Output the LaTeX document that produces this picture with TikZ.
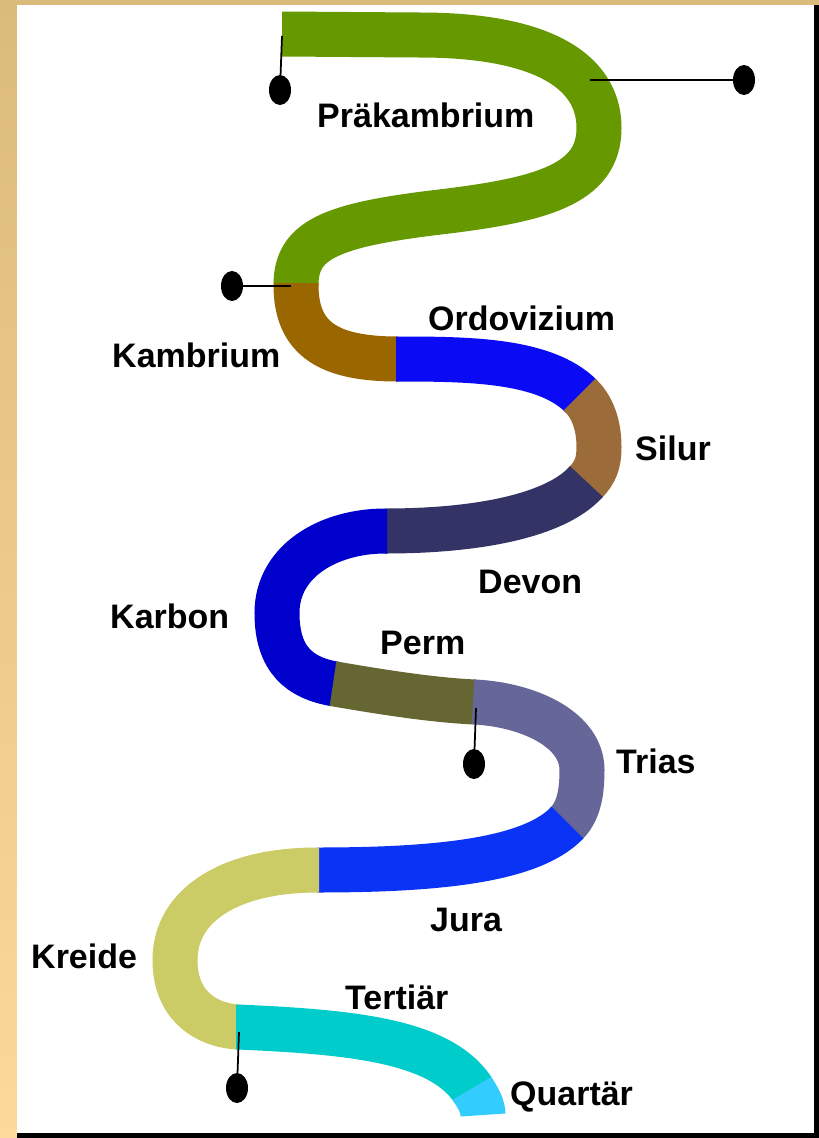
\documentclass[tikz,border=0pt]{standalone}
\usepackage{fontspec}
\setsansfont{Liberation Sans}
\usetikzlibrary{shapes.geometric}
\definecolor{frametop}{HTML}{DBBB7B}
\definecolor{framebottom}{HTML}{FDD99A}
\definecolor{praekamb}{HTML}{669900}
\definecolor{kamb}{HTML}{996600}
\definecolor{ordo}{HTML}{0A0AF5}
\definecolor{silur}{HTML}{9C6B3A}
\definecolor{devon}{HTML}{333366}
\definecolor{karbon}{HTML}{0000CC}
\definecolor{perm}{HTML}{666633}
\definecolor{trias}{HTML}{666699}
\definecolor{jura}{HTML}{0A33F5}
\definecolor{kreide}{HTML}{CCCC66}
\definecolor{tertiaer}{HTML}{00CCCC}
\definecolor{quartaer}{HTML}{33CCFF}

\begin{document}
\begin{tikzpicture}[x=0.03cm,y=-0.03cm,font=\sffamily\bfseries\fontsize{29}{34}\selectfont]
  \tikzset{band/.style={line width=1.35cm,line cap=butt},
    era/.style={anchor=base west,inner sep=0pt},
    blob/.style={ellipse,fill=black,minimum width=0.66cm,minimum height=0.9cm,inner sep=0pt},
    leader/.style={line width=1.5pt}}

  \useasboundingbox (0,0) rectangle (819,1138);
  \shade[top color=frametop,bottom color=framebottom] (0,0) rectangle (819,1138);
  \fill[white] (17,5) rectangle (814,1133);
  \fill[black] (814,5) rectangle (819,1138);
  \fill[black] (17,1133) rectangle (819,1138);

  % the band of the eras
  \draw[band,praekamb] (282,34) -- (420,35) .. controls (540,35) and (599,70) .. (599,128)
    .. controls (599,185) and (540,200) .. (440,212) .. controls (330,225) and (296,240) .. (296,285);
  \draw[band,kamb] (296,283) -- (296,285) .. controls (296,340) and (330,359) .. (398,359);
  \draw[band,ordo] (396,359) -- (398,359) .. controls (470,359) and (545,360) .. (581,396);
  \draw[band,silur] (579.6,394.6) -- (581,396) .. controls (595,410) and (599,430) .. (599,447)
    .. controls (599,462) and (596,472) .. (585,483);
  \draw[band,devon] (586.4,481.5) -- (585,483) .. controls (555,515) and (480,531) .. (385,531);
  \draw[band,karbon] (387,531) -- (385,531) .. controls (330,531) and (277,560) .. (277,613)
    .. controls (277,660) and (300,678) .. (335,684);
  \draw[band,perm] (333,683.7) -- (335,684) .. controls (376,691) and (430,700) .. (475,702);
  \draw[band,trias] (473,701.9) -- (475,702) .. controls (530,705) and (582,730) .. (582,770)
    .. controls (582,795) and (578,812) .. (566,824);
  \draw[band,jura] (567.4,822.6) -- (566,824) .. controls (530,860) and (440,870) .. (317,870);
  \draw[band,kreide] (319,870) -- (317,870) .. controls (230,870) and (175,905) .. (175,960)
    .. controls (175,1005) and (205,1025) .. (238,1027);
  \draw[band,tertiaer] (236,1027) -- (238,1027) .. controls (350,1032) and (440,1040) .. (473,1090);
  \draw[band,quartaer] (472,1088.3) -- (473,1090) .. controls (478,1098) and (483,1106) .. (483,1115);

  \node[era] (praekambrium) at (317,127) {Präkambrium};
  \node[era] (ordovizium) at (428,330) {Ordovizium};
  \node[era] (kambrium) at (112,367) {Kambrium};
  \node[era] (silurlbl) at (635,460) {Silur};
  \node[era] (devonlbl) at (478,593) {Devon};
  \node[era] (karbonlbl) at (110,628) {Karbon};
  \node[era] (permlbl) at (380,654) {Perm};
  \node[era] (triaslbl) at (616,773) {Trias};
  \node[era] (juralbl) at (430,931) {Jura};
  \node[era] (kreidelbl) at (31,968) {Kreide};
  \node[era] (tertiaerlbl) at (345,1009) {Tertiär};
  \node[era] (quartaerlbl) at (510,1105) {Quartär};

  \node[blob] (dotstart) at (280,90) {};
  \node[blob] (dotright) at (744,80) {};
  \node[blob] (dotkamb) at (232,286) {};
  \node[blob] (dotperm) at (474,764) {};
  \node[blob] (dottert) at (237,1088) {};

  \coordinate (startend) at (282,36);
  \coordinate (rightend) at (590,80);
  \coordinate (kambend) at (291,286);
  \coordinate (permend) at (476,708);
  \coordinate (tertend) at (239,1032);

  \draw[leader] (startend) -- (dotstart);
  \draw[leader] (rightend) -- (dotright);
  \draw[leader] (kambend) -- (dotkamb);
  \draw[leader] (permend) -- (dotperm);
  \draw[leader] (tertend) -- (dottert);
\end{tikzpicture}
\end{document}
